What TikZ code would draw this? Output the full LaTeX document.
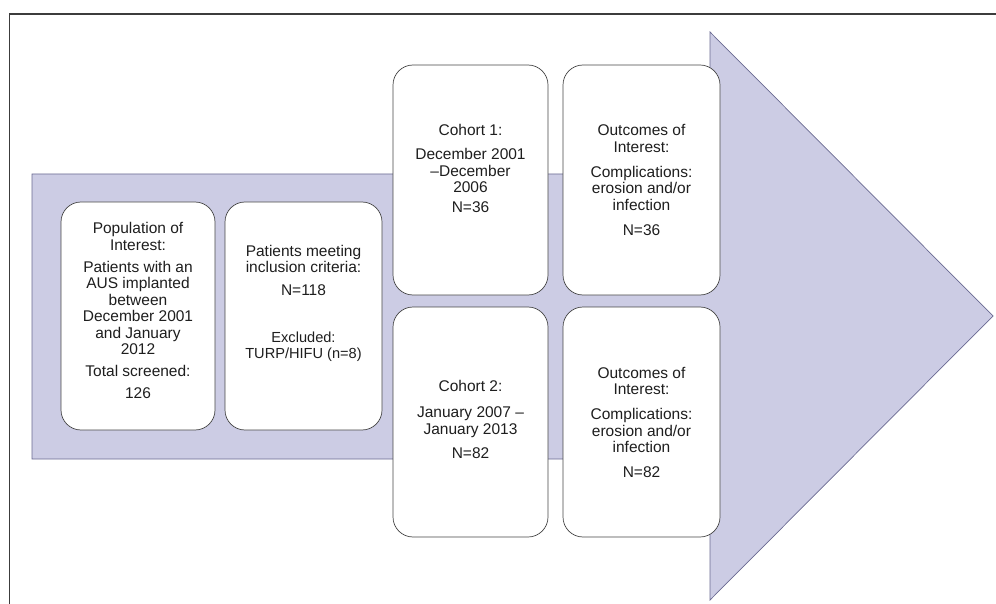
\documentclass[tikz,border=0pt]{standalone}
\usepackage{fontspec}
\setmainfont{Liberation Sans}
\definecolor{arrowfill}{RGB}{204,204,228}
\definecolor{arrowline}{RGB}{105,105,145}
\definecolor{boxline}{RGB}{70,70,70}
\definecolor{frameline}{RGB}{60,60,60}
\definecolor{txtcol}{RGB}{30,30,30}
\tikzset{
  stagebox/.style={draw=boxline, line width=0.7pt, fill=white, rounded corners=20pt, inner sep=0pt},
  txt/.style={align=center, anchor=base, inner sep=0pt, text=txtcol, font=\fontsize{15.5}{16.5}\selectfont}
}
\begin{document}
\begin{tikzpicture}[x=1pt,y=-1pt]
\useasboundingbox (0,0) rectangle (996,604);
% frame
\draw[frameline, line width=1.5pt] (9.5,604) -- (9.5,14) -- (996,14);
% big arrow
\path[draw=arrowline, fill=arrowfill, line width=0.7pt, line join=miter]
  (32,174) -- (710,174) -- (710,32) -- (993,316) -- (710,600) -- (710,459) -- (32,459) -- cycle;
% boxes
\node[stagebox, minimum width=154pt, minimum height=228pt] (pop) at (138,316) {};
\node[stagebox, minimum width=157pt, minimum height=228pt] (incl) at (303.5,316) {};
\node[stagebox, minimum width=155pt, minimum height=230pt] (coh1) at (470.5,180) {};
\node[stagebox, minimum width=157pt, minimum height=230pt] (out1) at (641.5,180) {};
\node[stagebox, minimum width=155pt, minimum height=230pt] (coh2) at (470.5,422) {};
\node[stagebox, minimum width=157pt, minimum height=230pt] (out2) at (641.5,422) {};
% texts (anchor=base is the baseline of the last line)
\node[txt] (poptxt) at (138,398.5) {Population of\\Interest:\\[5.5pt]Patients with an\\AUS implanted\\between\\December 2001\\and January\\2012\\[5.5pt]Total screened:\\[5.5pt]126};
\node[txt] (incltxt) at (303.5,358.5) {Patients meeting\\inclusion criteria:\\[6.5pt]N=118\\[30pt]{\fontsize{14.6}{16}\selectfont Excluded:}\\{\fontsize{14.6}{16}\selectfont TURP/HIFU (n=8)}};
\node[txt] (coh1txt) at (470.5,212.5) {Cohort 1:\\[7.5pt]December 2001\\–December\\2006\\[3pt]N=36};
\node[txt] (out1txt) at (641.5,235.5) {Outcomes of\\Interest:\\[8.5pt]Complications:\\erosion and/or\\infection\\[8.5pt]N=36};
\node[txt] (coh2txt) at (470.5,458.5) {Cohort 2:\\[9.5pt]January 2007 –\\January 2013\\[8pt]N=82};
\node[txt] (out2txt) at (641.5,477.5) {Outcomes of\\Interest:\\[8.5pt]Complications:\\erosion and/or\\infection\\[8.5pt]N=82};
\end{tikzpicture}
\end{document}
